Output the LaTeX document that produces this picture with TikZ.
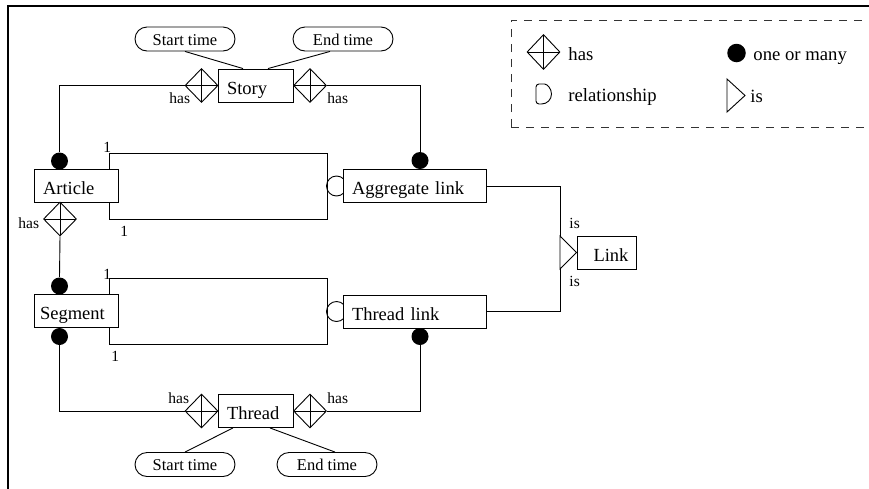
\documentclass[tikz,border=0pt]{standalone}
\usepackage{fontspec}
\setmainfont{Liberation Serif}
\usetikzlibrary{shapes.geometric,calc}

\newcommand{\entfont}{\fontsize{18.5}{20}\selectfont}
\newcommand{\attrfont}{\fontsize{16.5}{18}\selectfont}
\newcommand{\smallfont}{\fontsize{15.5}{17}\selectfont}
\newcommand{\legfont}{\fontsize{18.7}{20}\selectfont}

\tikzset{
  entity/.style={draw, fill=white, inner xsep=9pt, inner ysep=0pt,
    minimum height=33pt, align=left, text height=17pt, text depth=0pt,
    font=\entfont},
  attrib/.style={draw, fill=white, rounded corners=12pt, minimum width=100pt,
    minimum height=24pt, inner sep=0pt, text height=12pt, text depth=0pt,
    font=\attrfont},
  hasd/.style={draw, diamond, fill=white, minimum width=33pt,
    minimum height=34pt, inner sep=0pt,
    path picture={\draw (path picture bounding box.north) -- (path picture bounding box.south)
      (path picture bounding box.west) -- (path picture bounding box.east);}},
  many/.style={circle, fill=black, minimum size=17pt, inner sep=0pt},
  relc/.style={circle, draw, minimum size=20pt, inner sep=0pt},
  lbl/.style={anchor=base west, inner sep=0pt, font=\smallfont},
  leg/.style={anchor=base west, inner sep=0pt, font=\legfont},
}

\begin{document}
\begin{tikzpicture}[x=1pt, y=1pt, line width=0.9pt]
\useasboundingbox (0,0) rectangle (869,-488);
\clip (0,0) rectangle (869,-488);

% outer frame (top and left edges)
\draw[line width=2pt] (7.7,-490) -- (7.7,-6) -- (875,-6);

% legend frame
\draw[black!80, dash pattern=on 8pt off 7pt] (511,-127) -- (511,-20) -- (880,-20)
  (511,-127) -- (880,-127);

% legend symbols
\node[hasd, minimum height=35pt] (lgd) at (543.5,-52) {};
\node[leg] (lgdt) at (568,-60) {has};
\node[many, minimum size=18.5pt] (lgc) at (736.5,-53) {};
\node[leg] (lgct) at (753,-60) {one or many};
\draw (541.5,-84) arc[start angle=90, end angle=-90, radius=10pt]
  [rounded corners=3pt] -- (536,-104) -- (536,-84) -- cycle;
\node[leg] (lgrt) at (568,-101) {relationship};
\draw (727,-79) -- (745,-95.5) -- (727,-112) -- cycle;
\node[leg] (lgit) at (750,-102) {is};

% relationship rectangles behind the entities
\coordinate (r1a) at (109,-153);
\coordinate (r1b) at (327,-219);
\coordinate (r2a) at (109,-278);
\coordinate (r2b) at (327,-344);
\draw (r1a) rectangle (r1b);
\draw (r2a) rectangle (r2b);
\node[relc] (rc1) at (336.5,-186) {};
\node[relc] (rc2) at (336.5,-311.5) {};

% entities
\node[entity, text width=57pt] (story) at (255.5,-85.5) {Story};
\node[entity, text width=57pt] (thread) at (255.5,-411) {Thread};
\node[entity, text width=66pt] (article) at (76,-185.5) {Article};
\node[entity, inner xsep=6pt, text width=72pt] (segment) at (76,-311) {Segment};
\node[entity, text width=125pt] (agg) at (414.5,-186) {Aggregate link};
\node[entity, text width=125pt] (tlink) at (414.5,-311.5) {Thread link};
\node[entity, align=center, inner xsep=0pt, minimum width=59pt] (link) at (606.5,-252.5) {\hspace*{9pt}Link};

% attributes
\node[attrib] (st1) at (185,-39) {Start time};
\node[attrib] (et1) at (343,-39) {End time};
\node[attrib] (st2) at (185,-464.5) {Start time};
\node[attrib] (et2) at (327,-464.5) {End time};

\draw (st1.south) -- ([xshift=-12.5pt]story.north);
\draw ([xshift=-13pt]et1.south) -- ([xshift=12.5pt]story.north);
\draw ([xshift=-22.5pt]thread.south) -- (st2.north);
\draw ([xshift=14.5pt]thread.south) -- ([xshift=8pt]et2.north);

% "has" diamonds
\node[hasd] (d1) at (201.5,-85.5) {};
\node[hasd] (d2) at (310,-85.5) {};
\node[hasd] (d3) at (60,-219) {};
\node[hasd] (d4) at (201.5,-411) {};
\node[hasd] (d5) at (310,-411) {};

% "one or many" dots
\node[many] (c1) at (59.5,-161) {};
\node[many] (c2) at (420,-160.5) {};
\node[many] (c3) at (59.5,-286) {};
\node[many] (c4) at (59.5,-336.5) {};
\node[many] (c5) at (420,-336.5) {};

% connectors
\draw (d1.west) -| (c1.north);
\draw (d2.east) -| (c2.north);
\draw (d3.south) -- (c3.north);
\draw (c4.south) |- (d4.west);
\draw (c5.south) |- (d5.east);

% "is" triangle towards Link
\coordinate (ta) at (560,-236);
\coordinate (tb) at (560,-269);
\draw (ta) -- (link.west) -- (tb) -- cycle;
\draw (agg.east) -| (ta);
\draw (tlink.east) -| (tb);

% labels
\node[lbl] (h1) at (169,-103) {has};
\node[lbl] (h2) at (327,-103) {has};
\node[lbl] (h3) at (18,-228) {has};
\node[lbl] (h4) at (168,-403) {has};
\node[lbl] (h5) at (327,-403) {has};
\node[lbl] (i1) at (569,-228) {is};
\node[lbl] (i2) at (569,-286) {is};
\node[lbl] (n1) at (103,-152.5) {1};
\node[lbl] (n2) at (120,-236) {1};
\node[lbl] (n3) at (103,-279) {1};
\node[lbl] (n4) at (111,-361.5) {1};
\end{tikzpicture}
\end{document}
